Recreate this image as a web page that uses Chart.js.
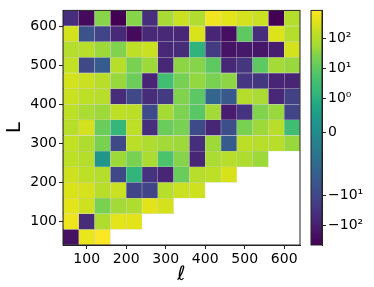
<!DOCTYPE html>
<html>
<head>
<meta charset="utf-8">
<script src="https://cdn.jsdelivr.net/npm/chart.js@4.4.1/dist/chart.umd.min.js"></script>
<style>
html,body{margin:0;padding:0;background:#fff;}
#wrap{position:relative;width:374px;height:287px;}
#mapa{position:absolute;left:0;top:0;}
#barra{position:absolute;left:300px;top:0;}
</style>
</head>
<body>
<div id="wrap">
<canvas id="mapa" width="374" height="287"></canvas>
<canvas id="barra" width="74" height="287"></canvas>
</div>
<script>

// =============================
// DADOS
// =============================

const ellCentros = [60,100,140,180,220,260,300,340,380,420,460,500,540,580,620];
const LCentros = [620,580,540,500,460,420,380,340,300,260,220,180,140,100,60];

// uma linha por L (de cima para baixo), null = celula vazia
const valoresCelulas = [
[-40,-280,30,-450,30,-40,65,200,90,600,400,250,200,-450,100],
[250,-5,-12,-55,-280,-55,-55,-60,300,-70,-220,10,-40,330,100],
[100,110,50,27,140,200,-55,-45,1.3,-18,-180,-130,-150,-110,250],
[160,-9,-2.5,110,23,50,-60,35,30,10,-60,-25,10,58,45],
[250,200,120,45,15,-70,3.5,20,40,23,35,-27,-25,-70,-70],
[200,140,110,-45,-9,-45,-20,27,9,-1.2,-3,100,70,-60,-14],
[140,70,50,140,130,-8,60,25,8,55,-110,-30,27,45,-12],
[110,250,14,1.6,140,-40,14,23,-7,-65,-6,23,50,120,3],
[160,85,23,-9,130,85,55,50,-40,50,-2.5,130,110,110,45],
[140,100,0.3,50,23,70,5,30,-65,70,110,85,50,null,null],
[220,140,100,-9,1.4,-30,-70,14,110,140,290,null,null,null,null],
[300,270,120,200,-12,-12,110,200,220,null,null,null,null,null,null],
[400,220,23,55,85,380,250,null,null,null,null,null,null,null,null],
[550,-45,85,400,380,null,null,null,null,null,null,null,null,null,null],
[-200,500,800,null,null,null,null,null,null,null,null,null,null,null,null]
];

const xTicks = [100,200,300,400,500,600];
const yTicks = [100,200,300,400,500,600];
const cbTicks = [-100,-10,0,1,10,100];
const cbRotulos = ["\u221210\u00b2","\u221210\u00b9","0","10\u2070","10\u00b9","10\u00b2"];

const vmin = -435;
const vmax = 850;
const meiaCelula = 20;


// =============================
// ESCALA SYMLOG + VIRIDIS
// =============================

const linAdj = 1 / (1 - 1/10);

function symlog(v){
const a = Math.abs(v);
if(a <= 1) return v * linAdj;
return Math.sign(v) * (linAdj + Math.log10(a));
}

const viridis = [
"#440154","#471365","#482475","#46337f","#414487","#3b528b","#355f8d",
"#2f6c8e","#2a788e","#25848e","#21918c","#1e9c89","#22a884","#35b779",
"#44bf70","#5ec962","#7ad151","#a5db36","#bddf26","#dfe318","#fde725"
];

function hexRgb(h){
return [parseInt(h.slice(1,3),16),parseInt(h.slice(3,5),16),parseInt(h.slice(5,7),16)];
}

function corViridis(t){
t = Math.max(0, Math.min(1, t));
const p = t * (viridis.length - 1);
const i = Math.min(Math.floor(p), viridis.length - 2);
const f = p - i;
const a = hexRgb(viridis[i]), b = hexRgb(viridis[i+1]);
const c = a.map((x,k)=>Math.round(x + (b[k]-x)*f));
return `rgb(${c[0]},${c[1]},${c[2]})`;
}

const tMin = symlog(vmin);
const tMax = symlog(vmax);

function corValor(v){
return corViridis((symlog(v) - tMin) / (tMax - tMin));
}


// =============================
// DATASETS (uma linha por dataset)
// =============================

const datasets = LCentros.map((L,r)=>{
const pontos = [];
ellCentros.forEach((e,i)=>{
const v = valoresCelulas[r][i];
if(v === null) return;
pontos.push({x:e, y:[L-meiaCelula, L+meiaCelula], v:v});
});
return {
data: pontos,
backgroundColor: ctx => ctx.raw ? corValor(ctx.raw.v) : "#fff",
borderColor: "rgba(140,140,140,0.25)",
borderWidth: 0.5,
borderSkipped: false
};
});


// =============================
// MOLDURA
// =============================

const moldura = {
id: "moldura",
afterDraw(chart){
const {ctx, chartArea:a} = chart;
ctx.save();
ctx.strokeStyle = "#222";
ctx.lineWidth = 1;
ctx.strokeRect(a.left, a.top, a.right - a.left, a.bottom - a.top);
ctx.restore();
}
};

const fonteTick = {size:14, family:"DejaVu Sans"};


// =============================
// GRAFICO PRINCIPAL
// =============================

new Chart(document.getElementById("mapa").getContext("2d"), {
type: "bar",
data: {datasets: datasets},
options: {
responsive: false,
animation: false,
layout: {padding: {top: 8, right: 74, left: 0, bottom: 0}},
plugins: {legend: {display: false}, tooltip: {enabled: false}},
datasets: {bar: {grouped: false, barPercentage: 1, categoryPercentage: 1}},
scales: {
x: {
type: "linear",
min: 40,
max: 640,
offset: false,
afterBuildTicks: s => { s.ticks = xTicks.map(v=>({value:v})); },
afterFit: s => { s.height = 42; },
grid: {offset: false, drawOnChartArea: false, tickLength: 4, color: "#222"},
border: {display: true, color: "#222"},
ticks: {color: "#000", font: fonteTick, padding: 2, maxRotation: 0, autoSkip: false},
title: {display: true, text: "\u2113", color: "#000", font: {size: 20, style: "italic", family: "DejaVu Sans"}, padding: {top: 0, bottom: 0}}
},
y: {
type: "linear",
min: 40,
max: 640,
offset: false,
afterBuildTicks: s => { s.ticks = yTicks.map(v=>({value:v})); },
afterFit: s => { s.width = 63; },
grid: {offset: false, drawOnChartArea: false, tickLength: 4, color: "#222"},
border: {display: true, color: "#222"},
ticks: {color: "#000", font: fonteTick, padding: 2, autoSkip: false},
title: {display: true, text: "L", color: "#000", font: {size: 20, family: "DejaVu Sans"}, padding: {top: 3, bottom: 0}}
}
}
},
plugins: [moldura]
});


// =============================
// BARRA DE CORES
// =============================

const gradiente = {
id: "gradiente",
beforeDatasetsDraw(chart){
const {ctx, chartArea:a} = chart;
const g = ctx.createLinearGradient(0, a.bottom, 0, a.top);
for(let k = 0; k <= 60; k++){
g.addColorStop(k/60, corViridis(k/60));
}
ctx.save();
ctx.fillStyle = g;
ctx.fillRect(a.left, a.top, a.right - a.left, a.bottom - a.top);
ctx.restore();
}
};

new Chart(document.getElementById("barra").getContext("2d"), {
type: "bar",
data: {labels: [""], datasets: [{data: [null]}]},
options: {
responsive: false,
animation: false,
layout: {padding: {top: 8, left: 11, right: 0, bottom: 42}},
plugins: {legend: {display: false}, tooltip: {enabled: false}},
scales: {
x: {display: false},
y: {
type: "linear",
position: "right",
min: tMin,
max: tMax,
afterBuildTicks: s => { s.ticks = cbTicks.map(v=>({value:symlog(v)})); },
afterFit: s => { s.width = 52; },
grid: {drawOnChartArea: false, tickLength: 4, color: "#222"},
border: {display: true, color: "#222"},
ticks: {
color: "#000",
font: fonteTick,
padding: 2,
autoSkip: false,
callback: (v,i) => cbRotulos[i]
}
}
}
},
plugins: [gradiente, moldura]
});

</script>
</body>
</html>
